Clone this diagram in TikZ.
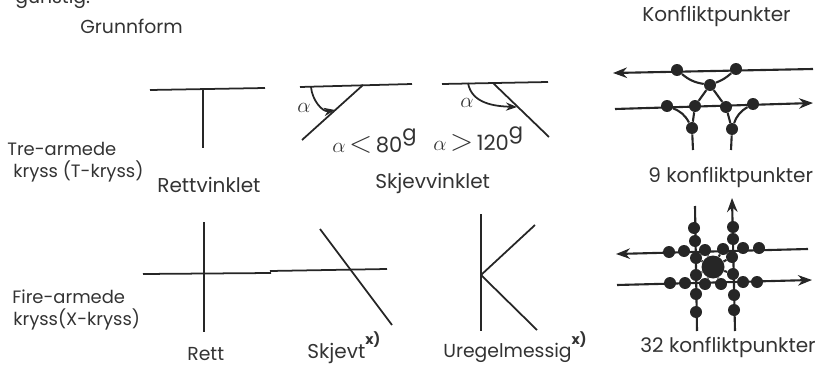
\documentclass[tikz,border=0pt]{standalone}
\usepackage{amsmath,amssymb}
\usepackage{fontspec}
\setmainfont{Poppins}
\usetikzlibrary{arrows.meta, positioning, calc}

\begin{document}
\begin{tikzpicture}[
        x=0.02cm, y=-0.02cm,
        road/.style={draw=black!85, line width=1pt},
        conflict/.style={draw=black!85, line width=1.2pt},
        pt/.style={circle, fill=black!85, inner sep=0pt, minimum size=0.24cm},
        bigpt/.style={circle, fill=black!85, inner sep=0pt, minimum size=0.46cm},
        lbl/.style={font=\fontsize{10.2}{12}\selectfont, text=black!80, inner sep=0pt, anchor=base west},
        capt/.style={lbl, font=\fontsize{10.7}{12}\selectfont},
        wide/.style={lbl, font=\fontsize{11.4}{13}\selectfont},
        mathlbl/.style={lbl, font=\fontsize{12}{14}\selectfont}
    ]
        \useasboundingbox (0,0) rectangle (825,365);

        % headings and row labels
        \node[capt] (gunstig) at (15,4) {gunstig:};
        \node[capt] (grunnform) at (80,33) {Grunnform};
        \node[wide] (konflikt) at (642,21) {Konfliktpunkter};
        \node[lbl] (tre) at (7,155) {Tre-armede};
        \node[lbl] (tkryss) at (13,177) {kryss (T-kryss)};
        \node[lbl] (fire) at (12,303) {Fire-armede};
        \node[lbl] (xkryss) at (13,325) {kryss(X-kryss)};

        % captions
        \node[wide] (rettv) at (157,192) {Rettvinklet};
        \node[wide] (skjevv) at (375,188) {Skjevvinklet};
        \node[wide] (ni) at (648,182) {9 konfliktpunkter};
        \node[capt] (rett) at (187,360) {Rett};
        \node[wide] (skjevt) at (307,358) {Skjevt\raisebox{1.2ex}{\fontsize{8}{9}\selectfont\textbf{x)}}};
        \node[capt] (ureg) at (443,357) {Uregelmessig\raisebox{1.2ex}{\fontsize{8}{9}\selectfont\textbf{x)}}};
        \node[wide] (tretto) at (640,352) {32 konfliktpunkter};
        \node[mathlbl] (mindre) at (332,152) {$\alpha$\,{\fontsize{16}{16}\selectfont$<$}\,80\raisebox{1ex}{g}};
        \node[mathlbl] (storre) at (433,150) {$\alpha$\,{\fontsize{16}{16}\selectfont$>$}\,120\raisebox{1ex}{g}};
        \node[mathlbl, anchor=center] (alfaa) at (304,108) {$\alpha$};
        \node[mathlbl, anchor=center] (alfab) at (467,103) {$\alpha$};

        % T, right angle
        \coordinate (ta) at (150,90);
        \coordinate (tb) at (265,88);
        \coordinate (tc) at (203,89);
        \coordinate (td) at (203,148);
        \draw[road] (ta) -- (tb);
        \draw[road] (tc) -- (td);

        % T, acute
        \coordinate (sa) at (300,87);
        \coordinate (sb) at (412,84);
        \coordinate (sc) at (363,85);
        \coordinate (sd) at (302,140);
        \coordinate (se) at (311,87);
        \coordinate (sf) at (335,110);
        \draw[road] (sa) -- (sb);
        \draw[road] (sc) -- (sd);
        \draw[road, -{Stealth[length=0.22cm]}] (se) to[out=-85, in=190] (sf);

        % T, obtuse
        \coordinate (oa) at (442,84);
        \coordinate (ob) at (548,82);
        \coordinate (oc) at (493,83);
        \coordinate (od) at (549,137);
        \coordinate (oe) at (468,83);
        \coordinate (of) at (517,107);
        \draw[road] (oa) -- (ob);
        \draw[road] (oc) -- (od);
        \draw[road, -{Stealth[length=0.22cm]}] (oe) to[out=-80, in=178] (of);

        % X, right angle
        \coordinate (xa) at (143,274);
        \coordinate (xb) at (271,273);
        \coordinate (xc) at (204,222);
        \coordinate (xd) at (204,332);
        \draw[road] (xa) -- (xb);
        \draw[road] (xc) -- (xd);

        % X, skew
        \coordinate (ya) at (270,271);
        \coordinate (yb) at (387,269);
        \coordinate (yc) at (320,229);
        \coordinate (yd) at (392,325);
        \draw[road] (ya) -- (yb);
        \draw[road] (yc) -- (yd);

        % X, irregular
        \coordinate (ka) at (481,214);
        \coordinate (kb) at (481,331);
        \coordinate (kc) at (481,275);
        \coordinate (kd) at (535,225);
        \coordinate (ke) at (537,330);
        \draw[road] (ka) -- (kb);
        \draw[road] (kc) -- (kd);
        \draw[road] (kc) -- (ke);

        % T conflict points
        \node[pt] (p1) at (677,70) {};
        \node[pt] (p2) at (736,69) {};
        \node[pt] (p3) at (710,85) {};
        \node[pt] (p4) at (667,106) {};
        \node[pt] (p5) at (695,106) {};
        \node[pt] (p6) at (726,107) {};
        \node[pt] (p7) at (753,104) {};
        \node[pt] (p8) at (692,128) {};
        \node[pt] (p9) at (732,129) {};
        \coordinate (pa) at (813,69);
        \coordinate (pb) at (613,73);
        \coordinate (pc) at (615,109);
        \coordinate (pd) at (813,103);
        \coordinate (pe) at (693,150);
        \coordinate (pf) at (731,150);
        \draw[conflict, -{Stealth[length=0.28cm]}] (pa) -- (pb);
        \draw[conflict, -{Stealth[length=0.28cm]}] (pc) -- (pd);
        \draw[conflict] (p8) -- (pe);
        \draw[conflict] (p9) -- (pf);
        \draw[conflict] (p1) to[bend right=15] (p3);
        \draw[conflict] (p2) to[bend left=10] (p3);
        \draw[conflict] (p3) -- (p5);
        \draw[conflict] (p3) -- (p6);
        \draw[conflict] (p4) to[bend left=20] (p8);
        \draw[conflict] (p7) to[bend right=20] (p9);
        \draw[conflict] (p5) -- (p8);
        \draw[conflict] (p6) -- (p9);

        % X conflict points
        \node[pt] (u1) at (669,252) {};
        \node[pt] (u2) at (684,251) {};
        \node[pt] (u3) at (705,250) {};
        \node[pt] (u4) at (723,249) {};
        \node[pt] (u5) at (743,248) {};
        \node[pt] (u6) at (759,248) {};
        \node[pt] (l1) at (670,283) {};
        \node[pt] (l2) at (685,283) {};
        \node[pt] (l3) at (705,284) {};
        \node[pt] (l4) at (721,284) {};
        \node[pt] (l5) at (743,282) {};
        \node[pt] (l6) at (757,282) {};
        \node[pt] (v1) at (694,228) {};
        \node[pt] (v2) at (695,241) {};
        \node[pt] (v3) at (696,258) {};
        \node[pt] (v4) at (696,275) {};
        \node[pt] (v5) at (696,294) {};
        \node[pt] (v6) at (696,312) {};
        \node[pt] (w1) at (733,227) {};
        \node[pt] (w2) at (733,239) {};
        \node[pt] (w3) at (732,257) {};
        \node[pt] (w4) at (733,274) {};
        \node[pt] (w5) at (734,295) {};
        \node[pt] (w6) at (734,310) {};
        \node[bigpt] (mid) at (713,267) {};
        \coordinate (ua) at (808,249);
        \coordinate (ub) at (616,254);
        \coordinate (la) at (617,285);
        \coordinate (lb) at (812,280);
        \coordinate (va) at (695,206);
        \coordinate (vb) at (697,331);
        \coordinate (wa) at (735,331);
        \coordinate (wb) at (732,198);
        \draw[conflict, -{Stealth[length=0.28cm]}] (ua) -- (ub);
        \draw[conflict, -{Stealth[length=0.28cm]}] (la) -- (lb);
        \draw[conflict] (va) -- (vb);
        \draw[conflict, -{Stealth[length=0.28cm]}] (wa) -- (wb);
        \draw[conflict] (u3) -- (mid);
        \draw[conflict] (u4) -- (mid);
        \draw[conflict] (l3) -- (mid);
        \draw[conflict] (l4) -- (mid);
        \draw[conflict] (v3) -- (mid);
        \draw[conflict] (v4) -- (mid);
        \draw[conflict] (w3) -- (mid);
        \draw[conflict] (w4) -- (mid);
    \end{tikzpicture}
\end{document}
